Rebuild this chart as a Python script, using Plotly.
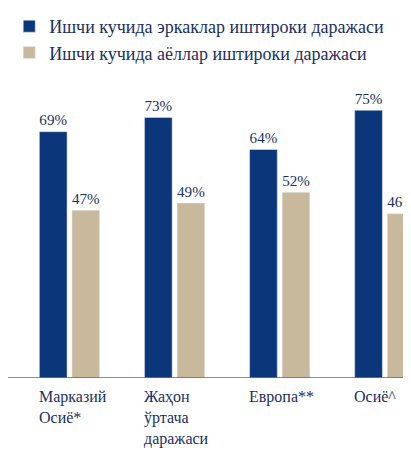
import plotly.graph_objects as go

categories = ["Марказий<br>Осиё*", "Жаҳон<br>ўртача<br>даражаси", "Европа**", "Осиё^"]
men = [69, 73, 64, 75]
women = [47, 49, 52, 46]
names = ["Ишчи кучида эркаклар иштироки даражаси", "Ишчи кучида аёллар иштироки даражаси"]

navy = "#0b377a"
beige = "#c9b99c"
txt = "#1b2f5e"
font = "Liberation Serif"
xs = list(range(len(categories)))

fig = go.Figure()
fig.add_bar(x=xs, y=men, name=names[0], marker_color=navy,
            text=[f"{v}%" for v in men], textposition="outside")
fig.add_bar(x=xs, y=women, name=names[1], marker_color=beige,
            text=[f"{v}%" for v in women], textposition="outside")
fig.update_traces(textfont=dict(family=font, size=17, color=txt), cliponaxis=False)

for i, c in enumerate(categories):
    fig.add_annotation(x=i - 0.31, y=0, xref="x", yref="y", text=c, showarrow=False,
                       xanchor="left", yanchor="top", align="left", yshift=-8,
                       font=dict(family=font, size=16, color=txt))

fig.add_shape(type="line", xref="x", yref="y", x0=-0.6, x1=3.31, y0=0, y1=0,
              line=dict(color="#666666", width=1.5))

fig.update_layout(
    width=411, height=451, barmode="group", bargap=0.38, bargroupgap=0.15,
    margin=dict(l=0, r=0, t=7, b=81),
    plot_bgcolor="white", paper_bgcolor="white",
    xaxis=dict(range=[-0.585, 3.325], showticklabels=False, showgrid=False, zeroline=False),
    yaxis=dict(range=[0, 100], visible=False),
    legend=dict(x=0.003, y=1.037, xanchor="left", yanchor="top", bgcolor="rgba(0,0,0,0)",
                font=dict(family=font, size=18, color=txt), itemwidth=30, tracegroupgap=6),
    font=dict(family=font),
    showlegend=True,
)
fig.write_html("out.html")
